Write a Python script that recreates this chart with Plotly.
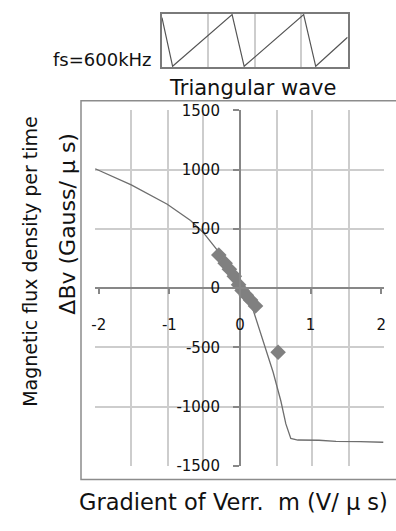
import plotly.graph_objects as go

# ---- data ----
curve_x = [-2.05, -1.54, -1.03, -0.70, -0.51, -0.33, -0.12, 0.00, 0.09, 0.19, 0.35, 0.47, 0.58, 0.65, 0.72, 0.82, 1.12, 1.36, 1.70, 2.03]
curve_y = [1008, 872, 709, 572, 463, 327, 125, 10, -82, -190, -490, -709, -954, -1145, -1267, -1281, -1283, -1292, -1295, -1300]

meas_x = [-0.30, -0.21, -0.15, -0.08, -0.02, 0.03, 0.09, 0.15, 0.22, 0.54]
meas_y = [280, 210, 160, 100, 30, -20, -60, -100, -150, -540]

x_ticks = [-2, -1, 0, 1, 2]
x_labels = ["-2", "-1", "0", "1", "2"]
y_ticks = [-1500, -1000, -500, 0, 500, 1000, 1500]
y_labels = ["-1500", "-1000", "-500", "0", "500", "1000", "1500"]
x_grid = [-1.55, -1.02, -0.52, 0.52, 1.02, 1.55]
y_grid = [-1000, -500, 500, 1000]

wave_t = [0, 0.15, 0.99, 1.16, 2.0, 2.17, 2.62]
wave_v = [0.94, 0.0, 1.0, 0.0, 1.0, 0.0, 0.56]
wave_grid = [0.655, 1.31, 1.965]

W, H = 396, 531
xr = [-2.056, 2.042]
yr = [-1500, 1500]
xdom = [93 / W, 386 / W]
ydom = [1 - 473 / H, 1 - 105 / H]

ypos = xdom[0] + (0 - xr[0]) / (xr[1] - xr[0]) * (xdom[1] - xdom[0])
xpos = ydom[0] + (0 - yr[0]) / (yr[1] - yr[0]) * (ydom[1] - ydom[0])

AX = "#878787"
GRID = "#cdcdcd"
FONT = "DejaVu Sans"
TICKFONT = dict(family=FONT, size=15, color="#111")

fig = go.Figure()

# curve on the grid (base) subplot, markers on the crossing-axes overlay
fig.add_trace(go.Scatter(x=curve_x, y=curve_y, mode="lines",
                         line=dict(color="#6e6e6e", width=1.3),
                         xaxis="x", yaxis="y", showlegend=False))
fig.add_trace(go.Scatter(x=meas_x, y=meas_y, mode="markers",
                         marker=dict(symbol="diamond", size=12, color="#808080"),
                         xaxis="x3", yaxis="y3", showlegend=False))
fig.add_trace(go.Scatter(x=wave_t, y=wave_v, mode="lines",
                         line=dict(color="#555555", width=1.2),
                         xaxis="x2", yaxis="y2", showlegend=False))

fig.update_layout(
    width=W, height=H,
    margin=dict(l=0, r=0, t=0, b=0),
    paper_bgcolor="white", plot_bgcolor="white",
    # grid-only base axes
    xaxis=dict(domain=xdom, range=xr, anchor="y",
               tickvals=x_grid, showgrid=True, gridcolor=GRID, gridwidth=1.5,
               showticklabels=False, ticks="", zeroline=False, showline=False),
    yaxis=dict(domain=ydom, range=yr, anchor="x",
               tickvals=y_grid, showgrid=True, gridcolor=GRID, gridwidth=1.5,
               showticklabels=False, ticks="", zeroline=False, showline=False),
    # crossing axes with ticks
    xaxis3=dict(domain=xdom, range=xr, overlaying="x", anchor="free", position=xpos,
                tickvals=x_ticks, ticktext=x_labels, ticks="outside", ticklen=5,
                tickcolor=AX, tickwidth=1.5, showline=True, linecolor=AX, linewidth=2,
                showgrid=False, zeroline=False, tickfont=TICKFONT,
                ticklabelstandoff=18),
    yaxis3=dict(domain=ydom, range=yr, overlaying="y", anchor="free", position=ypos,
                tickvals=y_ticks, ticktext=y_labels, ticks="outside", ticklen=6,
                tickcolor=AX, tickwidth=1.5, showline=True, linecolor=AX, linewidth=2,
                showgrid=False, zeroline=False, tickfont=TICKFONT,
                ticklabelstandoff=10),
    xaxis2=dict(domain=[161 / W, 349 / W], range=[0, 2.62], anchor="y2",
                tickvals=wave_grid, showgrid=True, gridcolor=GRID, gridwidth=1.5,
                showticklabels=False, ticks="", zeroline=False,
                showline=True, mirror=True, linecolor="#7a7a7a", linewidth=1.5),
    yaxis2=dict(domain=[1 - 60 / H, 1 - 5 / H], range=[-0.013, 1.013], anchor="x2",
                showgrid=False, showticklabels=False, ticks="", zeroline=False,
                showline=True, mirror=True, linecolor="#7a7a7a", linewidth=1.5),
    shapes=[dict(type="rect", xref="paper", yref="paper",
                 x0=79 / W, x1=1.02, y0=1 - 487 / H, y1=1 - 95 / H,
                 line=dict(color="#8c8c8c", width=1.5), layer="below")],
    annotations=[
        dict(text="Magnetic flux density per time", x=27 / W, y=1 - 261 / H,
             xref="paper", yref="paper", textangle=-90, showarrow=False,
             xanchor="center", yanchor="middle",
             font=dict(family=FONT, size=19, color="#111")),
        dict(text="ΔBv (Gauss/ μ s)", x=65 / W, y=1 - 222 / H,
             xref="paper", yref="paper", textangle=-90, showarrow=False,
             xanchor="center", yanchor="middle",
             font=dict(family=FONT, size=22, color="#111")),
        dict(text="Gradient of Verr.  m (V/ μ s)", x=233 / W, y=1 - 510 / H,
             xref="paper", yref="paper", showarrow=False,
             xanchor="center", yanchor="middle",
             font=dict(family=FONT, size=22.5, color="#111")),
        dict(text="fs=600kHz", x=101 / W, y=1 - 52 / H,
             xref="paper", yref="paper", showarrow=False,
             xanchor="center", yanchor="middle",
             font=dict(family=FONT, size=18, color="#111")),
        dict(text="Triangular wave", x=253 / W, y=1 - 82 / H,
             xref="paper", yref="paper", showarrow=False,
             xanchor="center", yanchor="middle",
             font=dict(family=FONT, size=21, color="#111")),
    ],
)

fig.write_html("out.html")
